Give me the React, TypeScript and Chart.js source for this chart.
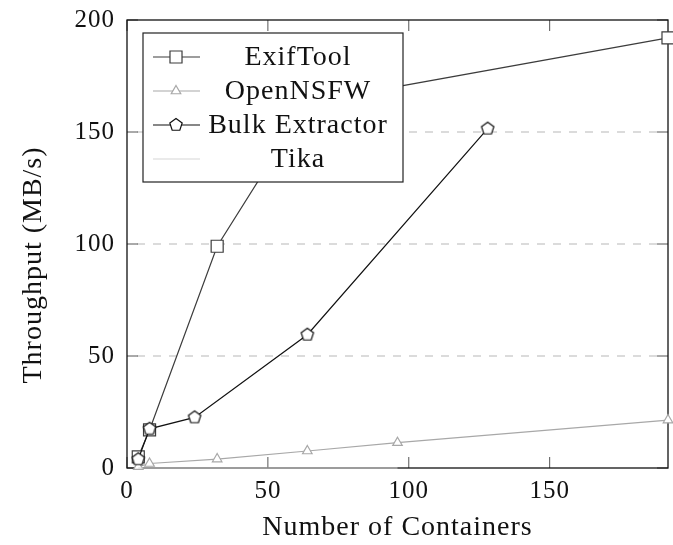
import React, { useEffect, useRef } from "react";
import { Chart, registerables } from "chart.js";
Chart.register(...registerables);

// ---- data ----
const exifContainers = [4, 8, 32, 64, 192];
const exifThroughput = [5, 17, 99, 163, 192];
const nsfwContainers = [4, 8, 32, 64, 96, 192];
const nsfwThroughput = [0.6, 2, 4, 7.6, 11.3, 21.4];
const bulkContainers = [4, 8, 24, 64, 128];
const bulkThroughput = [3.9, 17.5, 22.6, 59.5, 151.5];
const tikaContainers = [4, 8, 32, 64, 96];
const tikaThroughput = [0, 0, 0, 0, 0];
const seriesLabels = ["ExifTool", "OpenNSFW", "Bulk Extractor", "Tika"];
const xTitle = "Number of Containers";
const yTitle = "Throughput (MB/s)";

const FONT_FAMILY = "'Liberation Serif', 'Times New Roman', serif";
const TITLE_SIZE = 28;
const TICK_SIZE = 25;

function toPoints(xs: number[], ys: number[]) {
  return xs.map((x, i) => ({ x, y: ys[i] }));
}

function makePentagon(r: number, stroke: string, lw: number) {
  const size = Math.ceil(2 * r + lw * 2 + 2);
  const c = document.createElement("canvas");
  c.width = size;
  c.height = size;
  const ctx = c.getContext("2d")!;
  ctx.beginPath();
  for (let i = 0; i < 5; i++) {
    const a = -Math.PI / 2 + (i * 2 * Math.PI) / 5;
    const px = size / 2 + r * Math.cos(a);
    const py = size / 2 + r * Math.sin(a);
    if (i === 0) ctx.moveTo(px, py);
    else ctx.lineTo(px, py);
  }
  ctx.closePath();
  ctx.fillStyle = "#fff";
  ctx.fill();
  ctx.lineWidth = lw;
  ctx.strokeStyle = stroke;
  ctx.stroke();
  return c;
}

const spacingPlugin = {
  id: "spacing",
  beforeDraw(chart: any) {
    (chart.ctx as any).letterSpacing = "1px";
  },
};

const yTitlePlugin = {
  id: "yTitle",
  afterDraw(chart: any) {
    const { ctx, chartArea } = chart;
    const cy = (chartArea.top + chartArea.bottom) / 2 + 21;
    ctx.save();
    (ctx as any).letterSpacing = "1px";
    ctx.translate(34, cy);
    ctx.rotate(-Math.PI / 2);
    ctx.fillStyle = "#111";
    ctx.font = `${TITLE_SIZE}px ${FONT_FAMILY}`;
    ctx.textAlign = "center";
    ctx.textBaseline = "middle";
    ctx.fillText(yTitle, 0, 0);
    ctx.restore();
  },
};

const framePlugin = {
  id: "frame",
  beforeDatasetsDraw(chart: any) {
    const { ctx, chartArea, scales } = chart;
    const { left, right, top, bottom } = chartArea;
    const x = scales.x;
    const y = scales.y;
    ctx.save();
    // dashed horizontal grid
    ctx.strokeStyle = "#c4c4c4";
    ctx.lineWidth = 1.2;
    ctx.setLineDash([8, 8]);
    y.ticks.forEach((t: any) => {
      if (t.value <= y.min || t.value >= y.max) return;
      const py = y.getPixelForValue(t.value);
      ctx.beginPath();
      ctx.moveTo(left + 10, py);
      ctx.lineTo(right - 10, py);
      ctx.stroke();
    });
    ctx.setLineDash([]);
    // inward ticks
    ctx.strokeStyle = "#555";
    ctx.lineWidth = 1;
    const tl = 11;
    x.ticks.forEach((t: any) => {
      const px = x.getPixelForValue(t.value);
      ctx.beginPath();
      ctx.moveTo(px, bottom);
      ctx.lineTo(px, bottom - tl);
      ctx.moveTo(px, top);
      ctx.lineTo(px, top + tl);
      ctx.stroke();
    });
    y.ticks.forEach((t: any) => {
      const py = y.getPixelForValue(t.value);
      ctx.beginPath();
      ctx.moveTo(left, py);
      ctx.lineTo(left + tl, py);
      ctx.moveTo(right, py);
      ctx.lineTo(right - tl, py);
      ctx.stroke();
    });
    // frame
    ctx.strokeStyle = "#111";
    ctx.lineWidth = 1.3;
    ctx.strokeRect(left, top, right - left, bottom - top);
    ctx.restore();
  },
};

function drawMarker(ctx: CanvasRenderingContext2D, ds: any, cx: number, cy: number) {
  const style = ds.pointStyle;
  const r = ds.pointRadius || 0;
  if (!r && !(style instanceof HTMLCanvasElement)) return;
  ctx.save();
  ctx.fillStyle = ds.pointBackgroundColor;
  ctx.strokeStyle = ds.pointBorderColor;
  ctx.lineWidth = ds.pointBorderWidth;
  if (style instanceof HTMLCanvasElement) {
    ctx.drawImage(style, cx - style.width / 2, cy - style.height / 2);
  } else if (style === "rect") {
    const s = Math.SQRT1_2 * r;
    ctx.beginPath();
    ctx.rect(cx - s, cy - s, 2 * s, 2 * s);
    ctx.fill();
    ctx.stroke();
  } else if (style === "triangle") {
    ctx.beginPath();
    ctx.moveTo(cx, cy - r);
    ctx.lineTo(cx + r * Math.cos(Math.PI / 6), cy + r / 2);
    ctx.lineTo(cx - r * Math.cos(Math.PI / 6), cy + r / 2);
    ctx.closePath();
    ctx.fill();
    ctx.stroke();
  }
  ctx.restore();
}

const legendPlugin = {
  id: "boxLegend",
  afterDatasetsDraw(chart: any) {
    const { ctx, chartArea } = chart;
    const left = chartArea.left + 16;
    const top = chartArea.top + 13;
    const w = 260;
    const h = 149;
    ctx.save();
    ctx.fillStyle = "#fff";
    ctx.fillRect(left, top, w, h);
    ctx.strokeStyle = "#222";
    ctx.lineWidth = 1.2;
    ctx.strokeRect(left, top, w, h);
    chart.data.datasets.forEach((ds: any, i: number) => {
      const cy = top + 24 + i * 34;
      ctx.strokeStyle = ds.borderColor;
      ctx.lineWidth = ds.borderWidth;
      ctx.beginPath();
      ctx.moveTo(left + 10, cy);
      ctx.lineTo(left + 57, cy);
      ctx.stroke();
      drawMarker(ctx, ds, left + 33, cy);
      ctx.fillStyle = "#111";
      ctx.font = `${TITLE_SIZE}px ${FONT_FAMILY}`;
      ctx.textAlign = "center";
      ctx.textBaseline = "middle";
      ctx.fillText(ds.label, left + 155, cy + 1);
    });
    ctx.restore();
  },
};

export default function App() {
  const ref = useRef<HTMLCanvasElement | null>(null);
  useEffect(() => {
    if (!ref.current) return;
    const pentagon = makePentagon(6.5, "#111", 1.2);
    const titleFont = { family: FONT_FAMILY, size: TITLE_SIZE };
    const tickFont = { family: FONT_FAMILY, size: TICK_SIZE };
    const chart = new Chart(ref.current, {
      type: "line",
      data: {
        datasets: [
          {
            label: seriesLabels[0],
            data: toPoints(exifContainers, exifThroughput),
            borderColor: "#3c3c3c",
            borderWidth: 1.2,
            pointStyle: "rect",
            pointRadius: 8.5,
            pointBackgroundColor: "#fff",
            pointBorderColor: "#3c3c3c",
            pointBorderWidth: 1.2,
            clip: false,
            order: 4,
          },
          {
            label: seriesLabels[1],
            data: toPoints(nsfwContainers, nsfwThroughput),
            borderColor: "#a8a8a8",
            borderWidth: 1.2,
            pointStyle: "triangle",
            pointRadius: 5.5,
            pointBackgroundColor: "#fff",
            pointBorderColor: "#a8a8a8",
            pointBorderWidth: 1.2,
            clip: false,
            order: 3,
          },
          {
            label: seriesLabels[2],
            data: toPoints(bulkContainers, bulkThroughput),
            borderColor: "#111",
            borderWidth: 1.2,
            pointStyle: pentagon,
            pointRadius: 6.5,
            pointBackgroundColor: "#fff",
            pointBorderColor: "#111",
            pointBorderWidth: 1.2,
            clip: false,
            order: 2,
          },
          {
            label: seriesLabels[3],
            data: toPoints(tikaContainers, tikaThroughput),
            borderColor: "#d6d6d6",
            borderWidth: 1.2,
            pointRadius: 0,
            clip: false,
            order: 1,
          },
        ] as any,
      },
      options: {
        animation: false,
        responsive: false,
        layout: { autoPadding: false, padding: { top: 20, right: 5, left: 0, bottom: 0 } },
        plugins: { legend: { display: false }, tooltip: { enabled: false } },
        scales: {
          x: {
            type: "linear",
            min: 0,
            max: 192,
            grid: { display: false, drawTicks: false },
            border: { display: false },
            ticks: { stepSize: 50, includeBounds: false, padding: 8, color: "#111", font: tickFont },
            title: { display: true, text: xTitle, color: "#111", font: titleFont, padding: { top: 0, bottom: 1 } },
            afterFit: (s: any) => {
              s.height = 77;
              s.paddingLeft = 0;
              s.paddingRight = 0;
            },
          },
          y: {
            type: "linear",
            min: 0,
            max: 200,
            grid: { display: false, drawTicks: false },
            border: { display: false },
            ticks: { stepSize: 50, padding: 12, color: "#111", font: tickFont },
            title: { display: false, text: yTitle },
            afterFit: (s: any) => {
              s.width = 127;
              s.paddingTop = 0;
              s.paddingBottom = 0;
            },
          },
        },
      } as any,
      plugins: [spacingPlugin, framePlugin, legendPlugin, yTitlePlugin],
    });
    return () => chart.destroy();
  }, []);
  return (
    <div style={{ position: "absolute", left: 0, top: 0, width: 673, height: 545 }}>
      <canvas ref={ref} width={673} height={545} style={{ display: "block" }} />
    </div>
  );
}
